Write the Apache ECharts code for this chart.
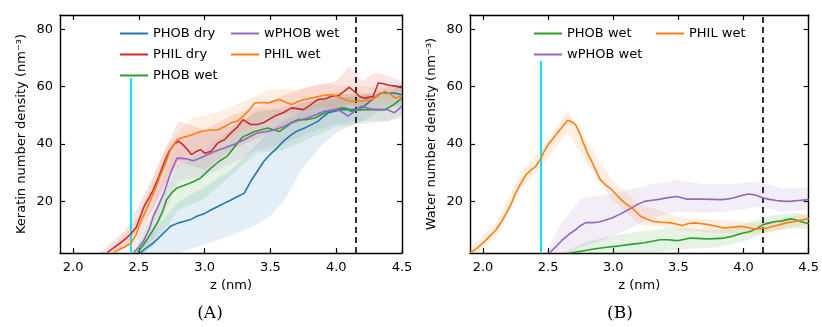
<!DOCTYPE html>
<html><head><meta charset="utf-8">
<script src="https://cdn.jsdelivr.net/npm/echarts@6/dist/echarts.min.js"></script>
<style>html,body{margin:0;padding:0;background:#fff}#c{width:822px;height:327px}</style>
</head><body><div id="c"></div>
<script>
// ---------- tick labels ----------
const xTicks = [2.0, 2.5, 3.0, 3.5, 4.0, 4.5];
const yTicks = [20, 40, 60, 80];

// ---------- Panel A: keratin number density ----------
const aPhobDryZ = [2.51,2.55,2.60,2.64,2.70,2.74,2.80,2.84,2.90,2.94,3.00,3.05,3.10,3.15,3.20,3.25,3.30,3.35,3.40,3.45,3.50,3.55,3.60,3.66,3.70,3.76,3.80,3.86,3.90,3.94,4.00,4.04,4.10,4.15,4.20,4.24,4.30,4.34,4.40,4.44,4.50];
const aPhobDryV = [2.0,3.5,5.2,6.8,9.5,11.3,12.5,13.0,13.8,14.8,15.8,17.1,18.2,19.4,20.5,21.7,22.8,27.0,30.5,34.0,36.5,38.6,41.0,43.3,44.5,45.6,46.5,47.9,49.5,50.9,51.5,52.0,52.0,52.0,52.8,54.3,56.5,57.8,57.8,57.8,57.2];
const aPhilDryZ = [2.26,2.30,2.35,2.40,2.44,2.48,2.54,2.58,2.61,2.65,2.69,2.73,2.77,2.80,2.83,2.87,2.90,2.94,2.97,3.00,3.05,3.10,3.15,3.20,3.25,3.29,3.35,3.40,3.45,3.53,3.60,3.66,3.75,3.80,3.86,3.92,3.96,4.02,4.06,4.10,4.15,4.18,4.22,4.28,4.32,4.36,4.40,4.45,4.50];
const aPhilDryV = [2.2,3.5,5.2,7.0,8.7,11.0,18.3,21.5,24.1,28.5,33.4,37.5,40.0,41.0,40.0,38.0,36.3,37.5,38.0,36.8,37.5,40.4,41.5,43.9,46.0,48.5,46.8,46.8,47.5,49.7,51.0,52.6,52.0,53.5,55.5,55.8,56.6,57.0,58.4,59.8,57.8,56.5,56.0,56.6,61.3,61.0,60.5,60.2,59.6];
const aPhobWetZ = [2.49,2.52,2.56,2.60,2.64,2.68,2.71,2.75,2.79,2.84,2.89,2.93,2.97,3.01,3.05,3.11,3.17,3.21,3.25,3.29,3.33,3.38,3.43,3.48,3.52,3.57,3.62,3.66,3.71,3.77,3.84,3.89,3.94,3.99,4.04,4.08,4.11,4.16,4.22,4.30,4.37,4.41,4.44,4.47,4.50];
const aPhobWetV = [2.2,4.0,6.6,9.5,12.5,16.5,20.6,23.0,24.7,25.5,26.4,27.2,28.2,30.0,31.7,34.0,35.7,38.0,40.4,42.5,43.3,44.4,45.0,45.6,45.0,44.4,46.0,47.5,48.5,48.5,49.1,50.3,51.4,52.0,52.6,52.5,51.4,51.8,52.0,52.0,52.0,53.0,53.8,55.0,56.0];
const aWphobWetZ = [2.46,2.50,2.54,2.58,2.61,2.65,2.69,2.72,2.75,2.79,2.83,2.87,2.91,2.94,3.00,3.05,3.10,3.15,3.20,3.25,3.30,3.35,3.40,3.46,3.53,3.60,3.66,3.72,3.78,3.85,3.91,3.96,4.01,4.05,4.09,4.14,4.19,4.24,4.29,4.34,4.39,4.44,4.47,4.50];
const aWphobWetV = [2.2,4.0,6.6,10.5,14.8,18.8,22.9,27.0,31.0,35.1,35.0,34.8,34.2,34.6,35.8,36.9,37.8,38.6,39.5,40.4,41.5,42.7,43.9,44.3,45.0,46.0,47.4,48.3,49.1,50.3,51.4,51.8,52.0,51.0,49.7,51.5,53.2,52.5,52.0,52.0,52.0,50.9,52.0,53.2];
const aPhilWetZ = [2.31,2.36,2.40,2.44,2.48,2.51,2.55,2.59,2.63,2.66,2.70,2.74,2.79,2.83,2.87,2.92,2.97,3.03,3.10,3.15,3.20,3.25,3.30,3.35,3.38,3.45,3.48,3.53,3.57,3.62,3.66,3.71,3.76,3.81,3.86,3.91,3.96,4.00,4.04,4.10,4.15,4.20,4.27,4.32,4.37,4.41,4.45,4.50];
const aPhilWetV = [2.2,3.5,4.3,5.5,8.5,12.5,16.5,20.6,25.0,28.7,33.0,38.0,41.5,42.3,42.7,43.5,44.4,44.8,45.0,46.0,47.4,48.0,50.0,52.5,54.3,54.5,54.3,55.0,55.5,54.5,53.8,54.8,55.5,56.0,56.6,57.0,57.2,56.8,56.0,55.0,54.9,55.0,55.5,57.0,58.4,57.5,56.0,56.8];

// bands (lower / upper envelope) panel A
const aPhobDryBandZ = [2.45,2.6,2.8,3.0,3.2,3.4,3.5,3.6,3.75,3.9,4.0,4.2,4.4,4.5];
const aPhobDryLo = [0,0,2,5,8,12,15,20,32,40,44,48,53,53];
const aPhobDryHi = [2,9,20,25,31,40,45,48,52,55,56,57,60,60];
const aPhilDryBandZ = [2.2,2.4,2.6,2.8,3.0,3.2,3.4,3.6,3.8,4.0,4.1,4.2,4.3,4.5];
const aPhilDryLo = [0,4,17,34,31,38,42,46,49,52,54,52,56,56];
const aPhilDryHi = [2,10,28,48,45,50,53,57,60,62,67,62,65,62];
const aPhobWetBandZ = [2.48,2.6,2.8,3.0,3.2,3.4,3.6,3.8,4.0,4.2,4.4,4.5];
const aPhobWetLo = [0,4,17,21,29,37,38,42,46,47,48,50];
const aPhobWetHi = [4,15,33,38,45,52,52,55,58,57,58,61];
const aWphobWetBandZ = [2.45,2.6,2.8,3.0,3.2,3.4,3.6,3.8,4.0,4.2,4.4,4.5];
const aWphobWetLo = [0,6,27,29,33,38,40,44,47,48,48,49];
const aWphobWetHi = [4,18,42,44,46,51,53,55,57,58,56,57];
const aPhilWetBandZ = [2.3,2.5,2.7,2.9,3.1,3.3,3.5,3.7,3.9,4.1,4.3,4.5];
const aPhilWetLo = [0,7,27,37,40,45,50,51,53,51,53,54];
const aPhilWetHi = [4,15,39,49,51,55,59,59,61,60,60,60];

// ---------- Panel B: water number density ----------
const bPhobWetZ = [2.66,2.75,2.85,2.95,3.05,3.15,3.24,3.30,3.36,3.42,3.49,3.55,3.59,3.65,3.72,3.78,3.85,3.90,3.95,4.00,4.05,4.10,4.15,4.20,4.25,4.30,4.36,4.40,4.44,4.50];
const bPhobWetV = [2.0,2.6,3.4,4.0,4.5,5.1,5.6,6.1,6.6,6.6,6.3,6.8,7.2,7.1,6.9,7.0,7.2,7.7,8.4,9.0,9.5,10.5,11.9,12.5,13.0,13.2,13.9,13.6,13.0,12.2];
const bWphobWetZ = [2.51,2.56,2.61,2.66,2.71,2.75,2.79,2.84,2.89,2.94,2.99,3.04,3.09,3.14,3.18,3.24,3.30,3.36,3.42,3.49,3.56,3.62,3.69,3.76,3.82,3.87,3.92,3.98,4.04,4.09,4.15,4.20,4.25,4.30,4.35,4.42,4.50];
const bWphobWetV = [2.0,4.2,6.6,8.5,10.1,11.6,12.6,12.6,12.8,13.5,14.2,15.3,16.5,17.7,18.8,20.0,20.4,20.8,21.3,21.7,20.8,20.8,20.8,20.7,20.6,20.8,21.2,22.0,22.6,22.2,21.2,20.7,20.3,20.1,20.0,20.3,20.6];
const bPhilWetZ = [1.90,1.95,2.00,2.05,2.10,2.14,2.18,2.22,2.25,2.29,2.33,2.37,2.40,2.44,2.47,2.51,2.54,2.57,2.61,2.65,2.68,2.71,2.74,2.77,2.80,2.84,2.87,2.90,2.94,2.99,3.04,3.09,3.13,3.16,3.21,3.26,3.31,3.37,3.44,3.49,3.53,3.58,3.63,3.68,3.73,3.79,3.85,3.91,3.98,4.03,4.08,4.13,4.18,4.23,4.28,4.33,4.39,4.44,4.50];
const bPhilWetV = [2.0,3.5,5.5,7.8,10.1,12.8,16.0,19.5,22.9,26.3,29.3,31.0,32.0,34.6,37.5,40.4,42.0,43.9,46.0,48.3,47.8,46.8,44.0,40.4,37.0,33.4,30.4,27.6,25.8,24.0,21.5,19.4,18.2,17.1,14.8,13.8,13.0,12.7,12.5,12.0,11.6,12.3,12.5,12.2,11.9,11.3,10.7,11.0,11.3,10.9,10.4,10.5,10.7,11.3,11.9,12.5,13.0,13.5,13.9];

// bands panel B
const bPhobWetBandZ = [2.6,2.8,3.0,3.2,3.4,3.6,3.8,4.0,4.2,4.4,4.5];
const bPhobWetLo = [0,0,0.5,1.5,2.5,3.5,4,6,9.5,11,10];
const bPhobWetHi = [2,6,8,9.5,10.5,10.5,10,12,15,16,15];
const bWphobWetBandZ = [2.5,2.6,2.75,2.9,3.1,3.3,3.5,3.7,3.9,4.1,4.3,4.5];
const bWphobWetLo = [0,1,4,6,10,14.5,16.5,16,16.5,18,16.5,17];
const bWphobWetHi = [4,12,21,22,24,26,27.5,26,26,27,24.5,25];
const bPhilWetBandZ = [1.9,2.1,2.3,2.45,2.65,2.8,3.0,3.2,3.5,3.8,4.1,4.3,4.5];
const bPhilWetLo = [0,7.5,25,32,44,33,20,12,10,9,8.5,10,12];
const bPhilWetHi = [4,12.5,31,38,52,41,27,19,14.5,13.5,12.5,14,16];

// reference lines
const cyanZ = 2.44, cyanTopA = 63, cyanTopB = 69, dashZ = 4.15;

const C = {blue:'#1f77b4', orange:'#ff7f0e', green:'#2ca02c', red:'#d62728', purple:'#9467bd'};
const FONT = 'DejaVu Sans';

function pairs(z, v){ return z.map((x,i)=>[x, v[i]]); }
function line(name, z, v, color, ax){
  return {type:'line', name, xAxisIndex:ax, yAxisIndex:ax, data:pairs(z,v), symbol:'none', showSymbol:false,
    lineStyle:{width:1.6, color}, itemStyle:{color}, z:5, animation:false, clip:true};
}
function band(z, lo, hi, color, ax){
  return {type:'custom', xAxisIndex:ax, yAxisIndex:ax, silent:true, clip:true, z:1, animation:false,
    data:[[z[0], lo[0]]],
    renderItem:function(params, api){
      const pts = [];
      for (let i=0;i<z.length;i++) pts.push(api.coord([z[i], hi[i]]));
      for (let i=z.length-1;i>=0;i--) pts.push(api.coord([z[i], lo[i]]));
      const cs = params.coordSys;
      return {type:'polygon', shape:{points:pts}, style:{fill:color, opacity:0.12},
        clipPath:{type:'rect', shape:{x:cs.x, y:cs.y, width:cs.width, height:cs.height}}};
    }};
}
function refLines(top){
  return {silent:true, symbol:['none','none'], label:{show:false}, animation:false,
    data:[
      [{coord:[cyanZ, 2], lineStyle:{color:'#00e8ff', width:2, type:'solid'}}, {coord:[cyanZ, top]}],
      {xAxis:dashZ, lineStyle:{color:'#000', width:1.6, type:[6,4]}}
    ]};
}

const grids = [
  {left:60, top:15, width:342, height:238},
  {left:470, top:15, width:343, height:238}
];
function xAx(g, pos, labels, name){
  return {type:'value', gridIndex:g, position:pos, min:1.9, max:4.5,
    name: name||'', nameLocation:'middle', nameGap:25, nameTextStyle:{fontFamily:FONT, fontSize:13, color:'#000'},
    axisLine:{show:true, onZero:false, lineStyle:{color:'#000', width:1.4}},
    axisTick:{show:true, inside:true, length:5, customValues:xTicks, lineStyle:{color:'#000', width:1.2}},
    axisLabel:{show:labels, customValues:xTicks, formatter:v=>v.toFixed(1), fontFamily:FONT, fontSize:13, color:'#000', margin:8},
    splitLine:{show:false}};
}
function yAx(g, pos, labels, name){
  return {type:'value', gridIndex:g, position:pos, min:2, max:85,
    name: name||'', nameLocation:'middle', nameGap:32, nameRotate:90, nameTextStyle:{fontFamily:FONT, fontSize:13, color:'#000'},
    axisLine:{show:true, onZero:false, lineStyle:{color:'#000', width:1.4}},
    axisTick:{show:true, inside:true, length:5, customValues:yTicks, lineStyle:{color:'#000', width:1.2}},
    axisLabel:{show:labels, customValues:yTicks, fontFamily:FONT, fontSize:13, color:'#000', margin:7},
    splitLine:{show:false}};
}
function leg(name, left, yc){
  return {data:[{name, icon:'rect'}], left, top:yc-8, padding:0, itemWidth:28, itemHeight:2, itemGap:0,
    textStyle:{fontFamily:FONT, fontSize:13, color:'#000'}, selectedMode:false};
}

const series = [];
series.push(band(aPhobDryBandZ, aPhobDryLo, aPhobDryHi, C.blue, 0));
series.push(band(aPhilDryBandZ, aPhilDryLo, aPhilDryHi, C.red, 0));
series.push(band(aPhobWetBandZ, aPhobWetLo, aPhobWetHi, C.green, 0));
series.push(band(aWphobWetBandZ, aWphobWetLo, aWphobWetHi, C.purple, 0));
series.push(band(aPhilWetBandZ, aPhilWetLo, aPhilWetHi, C.orange, 0));
series.push(band(bPhobWetBandZ, bPhobWetLo, bPhobWetHi, C.green, 2));
series.push(band(bWphobWetBandZ, bWphobWetLo, bWphobWetHi, C.purple, 2));
series.push(band(bPhilWetBandZ, bPhilWetLo, bPhilWetHi, C.orange, 2));
const lA1 = line('PHOB dry', aPhobDryZ, aPhobDryV, C.blue, 0);
lA1.markLine = refLines(cyanTopA);
series.push(lA1);
series.push(line('PHIL dry', aPhilDryZ, aPhilDryV, C.red, 0));
series.push(line('PHOB wet', aPhobWetZ, aPhobWetV, C.green, 0));
series.push(line('wPHOB wet', aWphobWetZ, aWphobWetV, C.purple, 0));
series.push(line('PHIL wet', aPhilWetZ, aPhilWetV, C.orange, 0));
const lB1 = line('PHOB wet', bPhobWetZ, bPhobWetV, C.green, 2);
lB1.markLine = refLines(cyanTopB);
series.push(lB1);
series.push(line('wPHOB wet', bWphobWetZ, bWphobWetV, C.purple, 2));
series.push(line('PHIL wet', bPhilWetZ, bPhilWetV, C.orange, 2));

const option = {
  backgroundColor:'#fff',
  animation:false,
  grid: grids,
  xAxis: [xAx(0,'bottom',true,'z (nm)'), xAx(0,'top',false), xAx(1,'bottom',true,'z (nm)'), xAx(1,'top',false)],
  yAxis: [yAx(0,'left',true,'Keratin number density (nm\u207B\u00B3)'), yAx(0,'right',false),
          yAx(1,'left',true,'Water number density (nm\u207B\u00B3)'), yAx(1,'right',false)],
  legend: [
    leg('PHOB dry', 120, 35), leg('PHIL dry', 120, 56), leg('PHOB wet', 120, 77),
    leg('wPHOB wet', 231, 35), leg('PHIL wet', 231, 56),
    leg('PHOB wet', 534, 35), leg('wPHOB wet', 534, 56), leg('PHIL wet', 656, 35)
  ],
  graphic: [
    {type:'text', x:210, y:314, style:{text:'(A)', font:'17px "DejaVu Serif"', fill:'#000', align:'center', verticalAlign:'middle'}},
    {type:'text', x:620, y:314, style:{text:'(B)', font:'17px "DejaVu Serif"', fill:'#000', align:'center', verticalAlign:'middle'}}
  ],
  series
};
const chart = echarts.init(document.getElementById('c'), null, {renderer:'canvas'});
chart.setOption(option);
</script>
</body></html>
